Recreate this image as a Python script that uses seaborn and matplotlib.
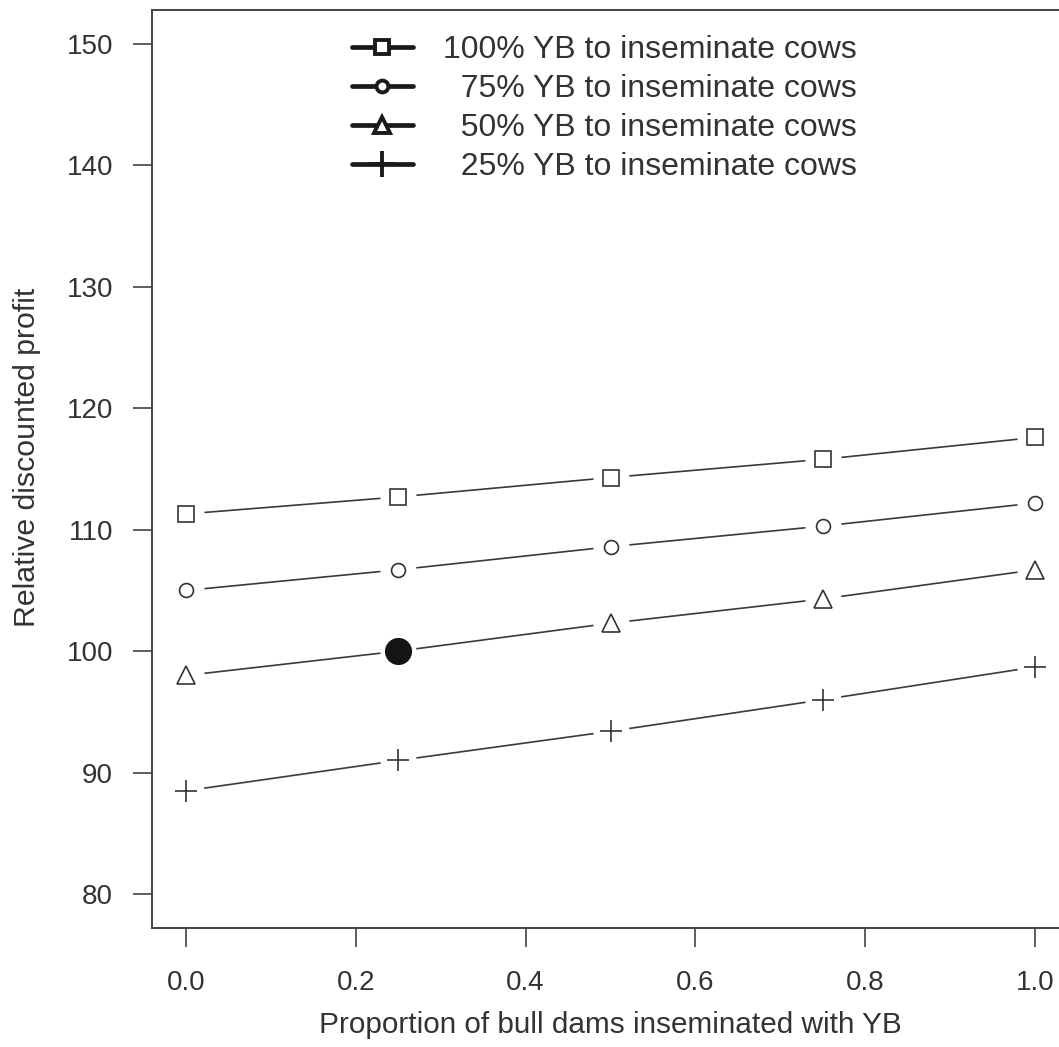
import numpy as np
import pandas as pd
import matplotlib
matplotlib.use("Agg")
import matplotlib.pyplot as plt
import seaborn as sns
from matplotlib.lines import Line2D

# ---- data ----
proportion = [0.0, 0.25, 0.5, 0.75, 1.0]
series_labels = ["100% YB to inseminate cows",
                 "75% YB to inseminate cows",
                 "50% YB to inseminate cows",
                 "25% YB to inseminate cows"]
profit_100 = [111.3, 112.7, 114.3, 115.8, 117.6]
profit_75 = [105.0, 106.7, 108.6, 110.3, 112.2]
profit_50 = [98.0, 100.0, 102.3, 104.3, 106.7]
profit_25 = [88.5, 91.0, 93.4, 96.0, 98.7]
baseline_x = [0.25]
baseline_y = [100.0]
xtick_values = [0.0, 0.2, 0.4, 0.6, 0.8, 1.0]
xtick_labels = ["0.0", "0.2", "0.4", "0.6", "0.8", "1.0"]
ytick_values = [80, 90, 100, 110, 120, 130, 140, 150]
x_label = "Proportion of bull dams inseminated with YB"
y_label = "Relative discounted profit"

series_values = [profit_100, profit_75, profit_50, profit_25]
df = pd.DataFrame({
    "proportion": proportion * 4,
    "profit": sum(series_values, []),
    "series": np.repeat(series_labels, len(proportion)),
})

# ---- style ----
sns.set_style("white")
plt.rcParams["font.family"] = ["Liberation Sans", "DejaVu Sans"]
TXT = "#333333"
DARK = "#3a3a3a"

fig = plt.figure(figsize=(10.59, 10.47), dpi=100)
W, H = 1059, 1047
ax = fig.add_axes([152 / W, 119 / H, (1069 - 152) / W, (1037 - 119) / H])

# lines
sns.lineplot(data=df, x="proportion", y="profit", hue="series",
             palette=[DARK] * 4, linewidth=1.2, legend=False, ax=ax,
             zorder=1)

# white halos to create the gaps of an R type="b" plot
ax.plot(df["proportion"], df["profit"], linestyle="none", marker="o",
        markersize=25, markerfacecolor="white", markeredgecolor="white",
        zorder=2)

markers = ["s", "o", "^", "+"]
sizes = [11, 10, 13.5, 15.5]
for vals, m, s in zip(series_values, markers, sizes):
    xs, ys = [], []
    for x, y in zip(proportion, vals):
        if m == "^" and x in baseline_x:
            continue
        xs.append(x)
        ys.append(y)
    ax.plot(xs, ys, linestyle="none", marker=m, markersize=s,
            markerfacecolor="none", markeredgecolor="#333333",
            markeredgewidth=1.2, zorder=3)

ax.plot(baseline_x, baseline_y, linestyle="none", marker="o", markersize=18.5,
        markerfacecolor="#151515", markeredgecolor="#151515", zorder=4)

ax.set_xlim(-0.04, 1.04)
ax.set_ylim(77.2, 152.8)
ax.set_xticks(xtick_values)
ax.set_xticklabels(xtick_labels)
ax.set_yticks(ytick_values)
ax.tick_params(axis="both", direction="out", length=14, width=1.1,
               color="#333333", labelsize=20, labelcolor=TXT,
               bottom=True, left=True)
ax.tick_params(axis="x", pad=16)
ax.tick_params(axis="y", pad=14)
for sp in ax.spines.values():
    sp.set_color("#444444")
    sp.set_linewidth(1.4)

ax.set_xlabel(x_label, fontsize=21.4, color=TXT, labelpad=11)
ax.set_ylabel(y_label, fontsize=21.8, color=TXT)
ax.yaxis.set_label_coords(-0.1215, 0.513)

# legend
handles = []
leg_sizes = [10, 8.5, 11, 19]
for m, s in zip(markers, leg_sizes):
    handles.append(Line2D([0], [0], color="#1a1a1a", linewidth=3.4, marker=m,
                          markersize=s, markerfacecolor="white",
                          markeredgecolor="#1a1a1a", markeredgewidth=2.8))
leg_labels = [series_labels[0]] + ["  " + t for t in series_labels[1:]]
leg = ax.legend(handles, leg_labels, loc="upper left",
                bbox_to_anchor=(352 / W, (H - 35) / H),
                bbox_transform=fig.transFigure, frameon=False,
                handlelength=1.9, handletextpad=0.95, labelspacing=0.28,
                borderpad=0, borderaxespad=0, fontsize=23)
for t in leg.get_texts():
    t.set_color(TXT)

fig.savefig("out.png", dpi=100)
